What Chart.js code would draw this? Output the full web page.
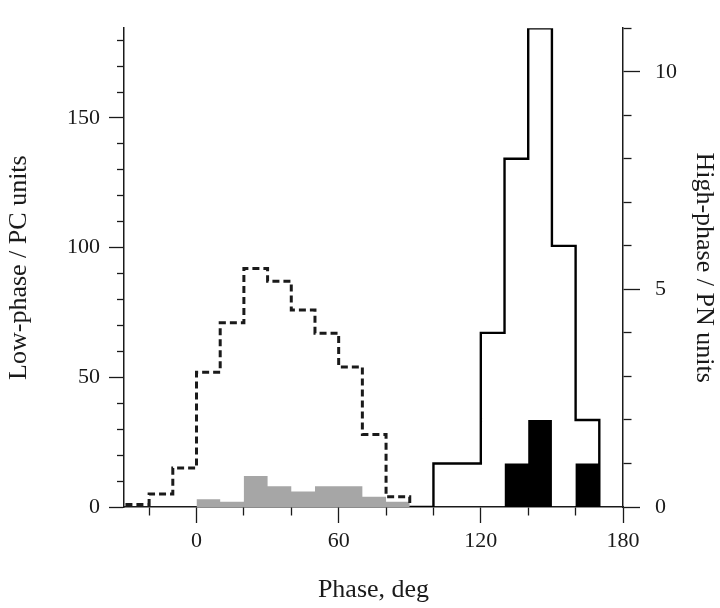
<!DOCTYPE html>
<html>
<head>
<meta charset="utf-8">
<script src="https://cdn.jsdelivr.net/npm/chart.js@4/dist/chart.umd.min.js"></script>
<style>
  body { margin: 0; background: #fff; }
  #wrap { width: 720px; height: 608px; position: relative; }
</style>
</head>
<body>
<div id="wrap"><canvas id="phaseChart"></canvas></div>
<script>
  // bin starts (deg), 10 deg wide
  const lowPcBins = [-30, -20, -10, 0, 10, 20, 30, 40, 50, 60, 70, 80];
  const lowPcCounts = [1, 5, 15, 52, 71, 92, 87, 76, 67, 54, 28, 4];

  const lowPnBins = [0, 10, 20, 30, 40, 50, 60, 70, 80];
  const lowPnCounts = [3, 2, 12, 8, 6, 8, 8, 4, 2];

  const highPnBins = [90, 100, 110, 120, 130, 140, 150, 160];
  const highPnCounts = [0, 1, 1, 4, 8, 11, 6, 2];

  const highPcBins = [130, 140, 150, 160];
  const highPcCounts = [1, 2, 0, 1];

  const binWidth = 10;
  const xTickLabels = [0, 60, 120, 180];

  // histogram outline: one point per bin start, then close at the last edge
  function steps(bins, counts) {
    const pts = bins.map((b, i) => ({ x: b, y: counts[i] }));
    pts.push({ x: bins[bins.length - 1] + binWidth, y: 0 });
    return pts;
  }

  const ink = "#1a1a1a";
  const serif = "'Liberation Serif', 'DejaVu Serif', serif";

  // short ticks for minor values, long for labelled ones
  const dashOut = (isMajor) => (isMajor ? [] : [8, 100]);

  new Chart(document.getElementById("phaseChart").getContext("2d"), {
    type: "line",
    data: {
      datasets: [
        {
          data: steps(lowPcBins, lowPcCounts),
          yAxisID: "yLeft",
          stepped: "before",
          borderColor: ink,
          borderWidth: 3,
          borderDash: [7, 4],
          fill: false,
          pointRadius: 0,
          order: 1,
        },
        {
          data: steps(lowPnBins, lowPnCounts),
          yAxisID: "yLeft",
          stepped: "before",
          borderWidth: 0,
          backgroundColor: "#a6a6a6",
          fill: "origin",
          pointRadius: 0,
          order: 3,
        },
        {
          data: steps(highPnBins, highPnCounts),
          yAxisID: "yRight",
          stepped: "before",
          borderColor: "#000",
          borderWidth: 2.4,
          fill: false,
          pointRadius: 0,
          order: 2,
        },
        {
          data: steps(highPcBins, highPcCounts),
          yAxisID: "yRight",
          stepped: "before",
          borderWidth: 0,
          backgroundColor: "#000",
          fill: "origin",
          pointRadius: 0,
          order: 4,
        },
      ],
    },
    options: {
      responsive: true,
      maintainAspectRatio: false,
      animation: false,
      layout: { padding: { top: 5, left: 0, right: 0, bottom: 0 } },
      plugins: {
        legend: { display: false },
        tooltip: { enabled: false },
      },
      scales: {
        x: {
          type: "linear",
          min: -30.6,
          max: 180,
          afterFit: (scale) => { scale.height = 101; },
          border: { display: true, color: ink, width: 1.5 },
          grid: {
            drawOnChartArea: false,
            drawTicks: true,
            tickLength: 16,
            tickColor: ink,
            tickWidth: 1.3,
            tickBorderDash: (ctx) => dashOut(xTickLabels.includes(ctx.tick && ctx.tick.value)),
          },
          ticks: {
            stepSize: 20,
            includeBounds: false,
            padding: 5,
            maxRotation: 0,
            autoSkip: false,
            color: ink,
            font: { family: serif, size: 22 },
            callback: (v) => (xTickLabels.includes(v) ? String(v) : ""),
          },
          title: {
            display: true,
            text: "Phase, deg",
            color: ink,
            font: { family: serif, size: 26 },
            padding: { top: 0, bottom: 2 },
          },
        },
        yLeft: {
          type: "linear",
          position: "left",
          min: 0,
          max: 184.6,
          afterFit: (scale) => { scale.width = 124; },
          border: { display: true, color: ink, width: 1.5 },
          grid: {
            drawOnChartArea: false,
            tickLength: 15,
            tickColor: ink,
            tickWidth: 1.3,
            // left ticks are drawn from the outer end inward
            tickBorderDash: (ctx) => (ctx.tick && ctx.tick.value % 50 === 0 ? [] : [7, 8]),
            tickBorderDashOffset: (ctx) => (ctx.tick && ctx.tick.value % 50 === 0 ? 0 : 7),
          },
          ticks: {
            stepSize: 10,
            includeBounds: false,
            padding: 9,
            autoSkip: false,
            color: ink,
            font: { family: serif, size: 22 },
            callback: (v) => (v % 50 === 0 ? String(v) : ""),
          },
          title: {
            display: true,
            text: "Low-phase / PC units",
            color: ink,
            font: { family: serif, size: 26 },
            padding: { top: 4, bottom: 0 },
          },
        },
        yRight: {
          type: "linear",
          position: "right",
          min: 0,
          max: 11,
          afterFit: (scale) => { scale.width = 97; },
          border: { display: true, color: ink, width: 1.5 },
          grid: {
            drawOnChartArea: false,
            tickLength: 17,
            tickColor: ink,
            tickWidth: 1.3,
            tickBorderDash: (ctx) => dashOut(ctx.tick && ctx.tick.value % 5 === 0),
          },
          ticks: {
            stepSize: 1,
            padding: 15,
            autoSkip: false,
            color: ink,
            font: { family: serif, size: 22 },
            callback: (v) => (v % 5 === 0 ? String(v) : ""),
          },
          title: {
            display: true,
            text: "High-phase / PN units",
            color: ink,
            font: { family: serif, size: 26 },
            padding: { top: 1, bottom: 0 },
          },
        },
      },
    },
  });
</script>
</body>
</html>
